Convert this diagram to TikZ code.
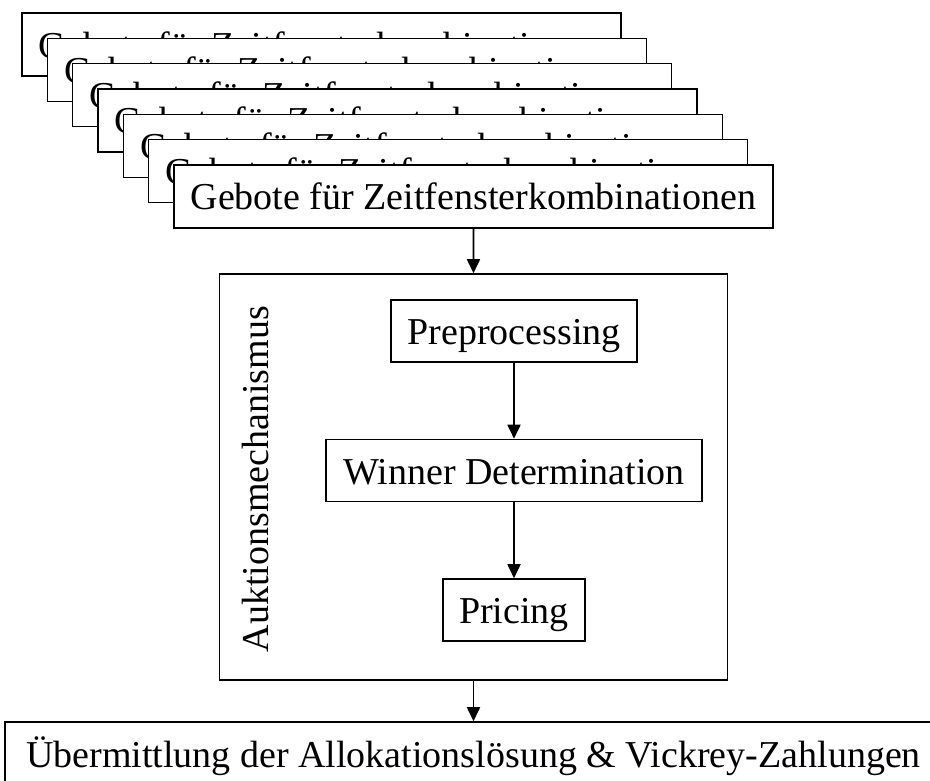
\documentclass[tikz,border=0pt]{standalone}
\usepackage{fontspec}
\setmainfont{Liberation Serif}
\usetikzlibrary{arrows.meta}

\tikzset{
  box/.style={draw=black, line width=1.6pt, fill=white, inner sep=0pt,
              font=\fontsize{38}{46}\selectfont, text height=33pt, text depth=6pt},
  bidbox/.style={box, minimum width=599pt, minimum height=63pt},
  stepbox/.style={box, minimum height=62pt},
  frame/.style={draw=black, line width=1.6pt, fill=white, inner sep=0pt,
                minimum width=508pt, minimum height=406pt},
  flow/.style={line width=1.8pt, -{Triangle[length=14pt,width=13pt]}}
}

\begin{document}
\begin{tikzpicture}[x=1pt, y=-1pt]
  \useasboundingbox (0,0) rectangle (930,780);
  \clip (0,0) rectangle (930,780);

  % stack of bid sheets, each one covering the previous
  \foreach \i in {0,...,6} {
    \node[bidbox] (bid\i) at ({321.5+25.33*\i}, {44.5+25.33*\i})
      {Gebote für Zeitfensterkombinationen};
  }

  % auction mechanism frame
  \node[frame] (mech) at (473.5, 477) {};
  \node[font=\fontsize{38}{46}\selectfont, rotate=90, anchor=base, inner sep=0pt]
    (mechlabel) at (268, 479) {Auktionsmechanismus};

  \node[stepbox, minimum width=246pt] (pre) at (514, 331) {Preprocessing};
  \node[stepbox, minimum width=376pt] (wd) at (514, 470.5) {Winner Determination};
  \node[stepbox, minimum width=142pt] (price) at (514, 610) {Pricing};

  % result sheet
  \node[box, minimum width=937pt, minimum height=63pt] (result) at (473.5, 753.5)
    {Übermittlung der Allokationslösung \& Vickrey-Zahlungen};

  \draw[flow] (bid6.south) -- (mech.north);
  \draw[flow] (pre.south) -- (wd.north);
  \draw[flow] (wd.south) -- (price.north);
  \draw[flow] (mech.south) -- (result.north);
\end{tikzpicture}
\end{document}
